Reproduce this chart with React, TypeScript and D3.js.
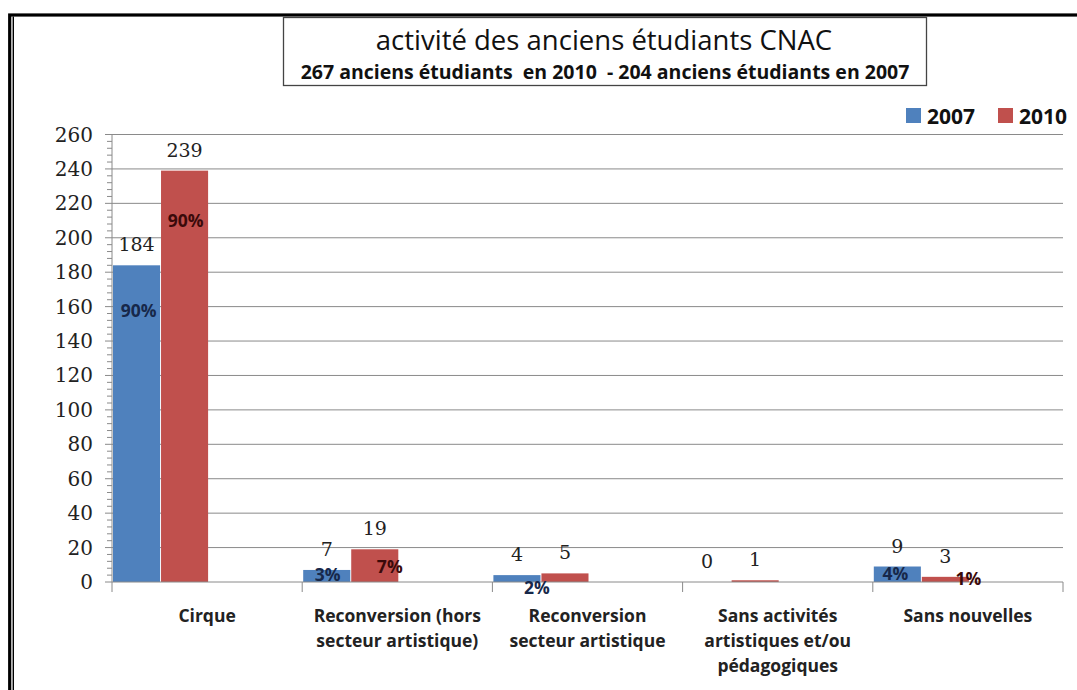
import React from "react";
import * as d3 from "d3";

// categories (one entry per line of the label)
const categories = [
  ["Cirque"],
  ["Reconversion (hors", "secteur artistique)"],
  ["Reconversion", "secteur artistique"],
  ["Sans activités", "artistiques et/ou", "pédagogiques"],
  ["Sans nouvelles"],
];
const years = ["2007", "2010"];
const values2007 = [184, 7, 4, 0, 9];
const values2010 = [239, 19, 5, 1, 3];
const pct2007 = [90, 3, 2, null, 4];
const pct2010 = [90, 7, null, null, 1];
const yTicks = d3.range(0, 261, 20);

const title = "activité des anciens étudiants CNAC";
const subtitle = "267 anciens étudiants  en 2010  - 204 anciens étudiants en 2007";

const colors = ["#4F81BD", "#C0504D"];
const pctColors = ["#17284a", "#3a0a0a"];
// small label nudges [dx, dy] so the % labels don't collide with the counts
const pctNudge2007 = [[2, -2], [1, 0], [20, 13], [0, 0], [-2, -1]];
const pctNudge2010 = [[1, 2], [15, -8], [0, 0], [0, 0], [23, 4]];

const W = 1077;
const H = 690;
const sans = "'Open Sans', 'Noto Sans', sans-serif";
const serif = "'DejaVu Serif', serif";

export default function App() {
  const keys = categories.map((c) => c.join(" "));
  const x = d3.scaleBand<string>().domain(keys).range([112, 1063]).padding(0);
  const y = d3.scaleLinear().domain([0, 260]).range([582, 134.5]);
  const bw = x.bandwidth();
  // bars sit in the left half of each category slot
  const sub = d3.scaleBand<string>().domain(years).range([0, bw * 0.5]).paddingInner(0.02);
  const series = [values2007, values2010];
  const pcts = [pct2007, pct2010];
  const nudges = [pctNudge2007, pctNudge2010];
  const minorTicks = d3.range(0, 261, 4).filter((v) => v % 20 !== 0);
  const boundaries = keys.map((k) => x(k)!).concat([x.range()[1]]);

  return (
    <svg width={W} height={H} style={{ position: "absolute", left: 0, top: 0, background: "#fff" }}>
      {/* outer frame */}
      <rect x={9.7} y={15} width={1200} height={800} fill="none" stroke="#000" strokeWidth={3.2} />
      <line x1={13.3} x2={13.3} y1={16.5} y2={H} stroke="#000" strokeWidth={1.4} />

      {/* title box */}
      <rect x={283.5} y={17.5} width={643} height={68} fill="#fff" stroke="#444" strokeWidth={1.3} />
      <text x={604} y={50} textAnchor="middle" fontFamily={sans} fontSize={27.5} fill="#111">
        {title}
      </text>
      <text
        x={605}
        y={79}
        textAnchor="middle"
        fontFamily={sans}
        fontSize={19.5}
        fontWeight="bold"
        fill="#111"
        style={{ whiteSpace: "pre" }}
      >
        {subtitle}
      </text>

      {/* gridlines */}
      {yTicks
        .filter((v) => v > 0)
        .map((v) => (
          <line key={"g" + v} x1={112} x2={1063} y1={y(v)} y2={y(v)} stroke="#8a8a8a" strokeWidth={1} />
        ))}

      {/* y axis */}
      <line x1={112} x2={112} y1={y(260)} y2={y(0)} stroke="#8a8a8a" />
      {minorTicks.map((v) => (
        <line key={"m" + v} x1={107} x2={112} y1={y(v)} y2={y(v)} stroke="#8a8a8a" />
      ))}
      {yTicks.map((v) => (
        <g key={"t" + v}>
          <line x1={105} x2={112} y1={y(v)} y2={y(v)} stroke="#8a8a8a" />
          <text x={93} y={y(v) + 7} textAnchor="end" fontFamily={serif} fontSize={20} fill="#222">
            {v}
          </text>
        </g>
      ))}

      {/* bars */}
      {series.map((vals, si) =>
        vals.map((v, i) => {
          const bx = x(keys[i])! + 1 + sub(years[si])!;
          return (
            <rect
              key={"b" + si + i}
              x={bx}
              y={y(v)}
              width={sub.bandwidth()}
              height={y(0) - y(v)}
              fill={colors[si]}
            />
          );
        })
      )}

      {/* x axis */}
      <line x1={112} x2={1063} y1={y(0)} y2={y(0)} stroke="#8a8a8a" />
      {boundaries.map((bx, i) => (
        <line key={"xt" + i} x1={bx} x2={bx} y1={y(0)} y2={y(0) + 10} stroke="#8a8a8a" />
      ))}

      {/* value labels */}
      {series.map((vals, si) =>
        vals.map((v, i) => {
          const cx = x(keys[i])! + 1 + sub(years[si])! + sub.bandwidth() / 2;
          return (
            <text
              key={"v" + si + i}
              x={cx}
              y={y(v) - 14}
              textAnchor="middle"
              fontFamily={serif}
              fontSize={19}
              fill="#222"
            >
              {v}
            </text>
          );
        })
      )}

      {/* percent labels */}
      {pcts.map((ps, si) =>
        ps.map((p, i) => {
          if (p === null) return null;
          const v = series[si][i];
          const [dx, dy] = nudges[si][i];
          const cx = x(keys[i])! + 1 + sub(years[si])! + sub.bandwidth() / 2;
          return (
            <text
              key={"p" + si + i}
              x={cx + dx}
              y={Math.min(y(v) + 54, y(0) - 1) + dy}
              textAnchor="middle"
              fontFamily={sans}
              fontSize={17.5}
              fontWeight="bold"
              fill={pctColors[si]}
            >
              {p}%
            </text>
          );
        })
      )}

      {/* category labels */}
      {categories.map((lines, i) =>
        lines.map((ln, li) => (
          <text
            key={"c" + i + li}
            x={x(keys[i])! + bw / 2}
            y={622 + li * 25}
            textAnchor="middle"
            fontFamily={sans}
            fontSize={17.5}
            fontWeight="bold"
            fill="#222"
          >
            {ln}
          </text>
        ))
      )}

      {/* legend */}
      {years.map((yr, i) => (
        <g key={"l" + yr} transform={`translate(${906 + i * 92},108)`}>
          <rect x={0} y={0} width={15} height={15} fill={colors[i]} />
          <text x={21} y={16} fontFamily={sans} fontSize={21} fontWeight="bold" fill="#111">
            {yr}
          </text>
        </g>
      ))}
    </svg>
  );
}
